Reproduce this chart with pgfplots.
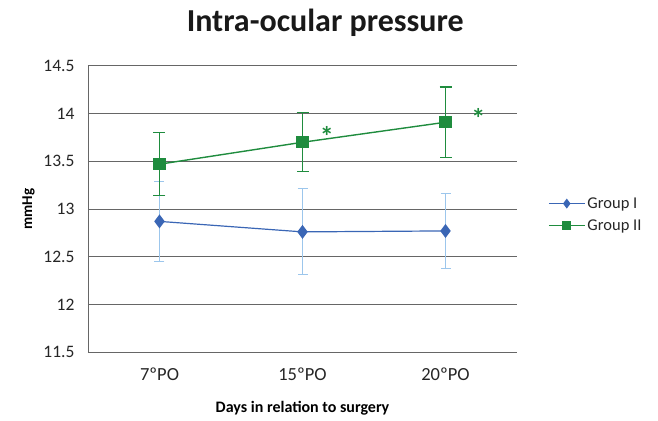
\documentclass[border=0pt]{standalone}
\usepackage{pgfplots}
\pgfplotsset{compat=1.18}
\usepackage{fontspec}
\setmainfont{Carlito}
\definecolor{gI}{HTML}{3A66B5}
\definecolor{gIe}{HTML}{9CC6EC}
\definecolor{gII}{HTML}{1F8C3E}
\begin{document}
\begin{tikzpicture}[x=1pt,y=1pt]
\useasboundingbox (-88,-68) rectangle (570,352);
\begin{axis}[
  at={(0,0)}, anchor=south west,
  scale only axis, width=429pt, height=286pt,
  xmin=-0.5, xmax=2.5, ymin=11.5, ymax=14.5,
  xtick={0,1,2}, xticklabels={7ºPO,15ºPO,20ºPO},
  ytick={11.5,12,12.5,13,13.5,14,14.5},
  yticklabels={11.5,12,12.5,13,13.5,14,14.5},
  major tick length=0pt,
  ymajorgrids, grid style={draw=black!60, line width=1pt},
  axis line style={draw=black!60, line width=0.8pt},
  axis x line*=bottom, axis y line*=left,
  x axis line style={draw=none},
  tick label style={font=\fontsize{17.5}{20}\selectfont, text=black!85},
  xticklabel style={font=\fontsize{18.5}{20}\selectfont, yshift=-12pt},
  yticklabel style={xshift=-10pt},
  xlabel={\textbf{Days in relation to surgery}},
  xlabel style={font=\fontsize{16}{18}\selectfont, yshift=-14pt},
  ylabel={\textbf{mmHg}},
  ylabel style={font=\fontsize{15}{16}\selectfont, yshift=2pt},
  legend style={at={(1.065,0.555)}, anchor=north west, draw=none, fill=none,
    font=\fontsize{16.5}{18}\selectfont, row sep=6pt, text=black!85},
  legend image code/.code={\draw[mark repeat=2,mark phase=2] plot coordinates {(0pt,0pt) (18pt,0pt) (36pt,0pt)};},
  legend image post style={mark size=4pt},
  legend cell align=left,
  clip=false,
]
\addplot[gI, line width=1.2pt, mark=diamond*, mark size=6pt, mark options={fill=gI, draw=gI},
  error bars/.cd, y dir=both, y explicit,
  error bar style={draw=gIe, line width=1pt}, error mark options={draw=gIe, line width=1pt, mark size=5pt, rotate=90}]
  coordinates {(0,12.87) +- (0,0.42) (1,12.76) +- (0,0.45) (2,12.77) +- (0,0.39)};
\addlegendentry{Group I}
\addplot[gII, line width=1.4pt, mark=square*, mark size=5.5pt, mark options={fill=gII, draw=gII},
  error bars/.cd, y dir=both, y explicit,
  error bar style={draw=gII, line width=1.2pt}, error mark options={draw=gII, line width=1.2pt, mark size=6pt, rotate=90}]
  coordinates {(0,13.47) +- (0,0.33) (1,13.70) +- (0,0.31) (2,13.91) +- (0,0.37)};
\addlegendentry{Group II}
\node[text=gII, font=\fontsize{28}{28}\selectfont\bfseries] at (axis cs:1.17,13.76) {*};
\node[text=gII, font=\fontsize{28}{28}\selectfont\bfseries] at (axis cs:2.23,13.95) {*};
\node[font=\fontsize{32}{34}\selectfont\bfseries, text=black!90] at (axis description cs:0.553,1.15) {Intra-ocular pressure};
\end{axis}
\end{tikzpicture}
\end{document}
